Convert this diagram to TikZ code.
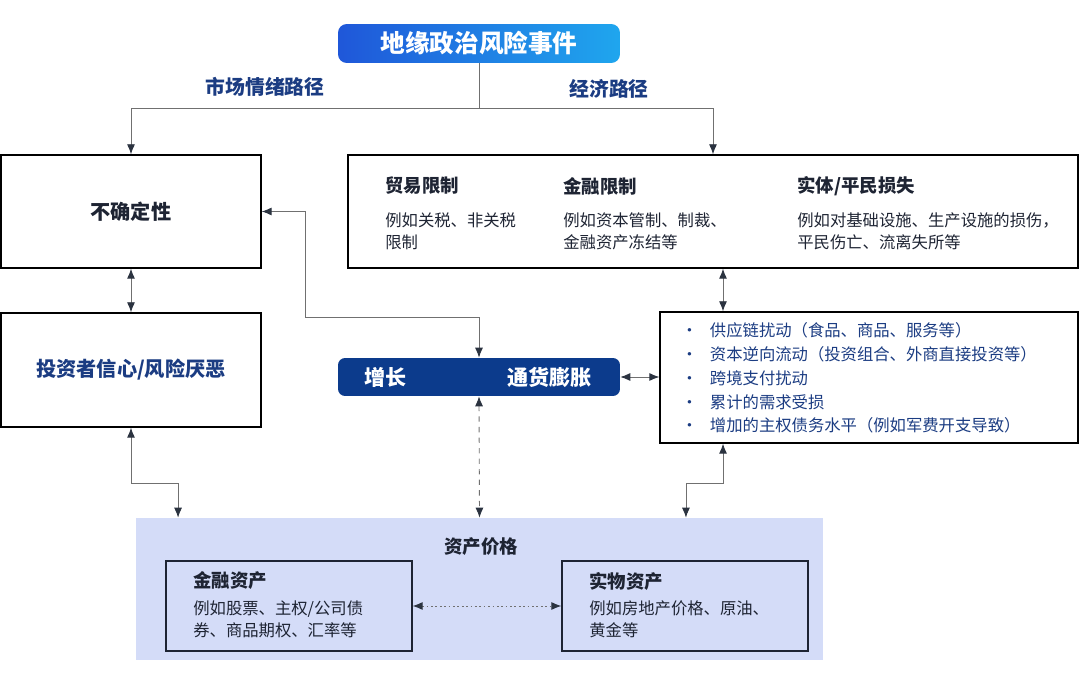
\documentclass[tikz,border=0pt]{standalone}
\usepackage{fontspec}
\setmainfont{Noto Sans CJK SC}
\usepackage{tikz}
\usetikzlibrary{arrows.meta}

\definecolor{navy}{HTML}{0C3B8C}
\definecolor{inkblue}{HTML}{1B3C82}
\definecolor{inkdark}{HTML}{1E2433}
\definecolor{linegray}{HTML}{707070}
\definecolor{tipgray}{HTML}{2B3340}
\definecolor{assetbg}{HTML}{D4DCF8}
\definecolor{gradleft}{HTML}{1F57D9}
\definecolor{gradright}{HTML}{1FA6EE}

\tikzset{
  box/.style={draw=black, line width=0.8pt, inner sep=0pt},
  headtxt/.style={font=\fontsize{10.5pt}{12pt}\selectfont\bfseries, text=inkdark, anchor=west, inner sep=0pt},
  bodytxt/.style={font=\fontsize{9.3pt}{12.5pt}\selectfont, text=inkdark, anchor=north west, align=left, inner sep=0pt},
  link/.style={draw=linegray, line width=0.5pt, >={Latex[length=2mm,width=1.6mm,color=tipgray]}},
}

\begin{document}
\begin{tikzpicture}[x=0.02cm,y=-0.02cm]
  \useasboundingbox (0,0) rectangle (1080,682);

    % Evento
  \node[rounded corners=5pt, left color=gradleft, right color=gradright, minimum width=5.64cm, minimum height=0.78cm,
        text=white, font=\fontsize{14pt}{16pt}\selectfont\bfseries] (event) at (479,43.5) {地缘政治风险事件};
  \node[font=\fontsize{11.3pt}{13pt}\selectfont\bfseries, text=inkblue] (mktlbl) at (265,87) {市场情绪路径};
  \node[font=\fontsize{11.3pt}{13pt}\selectfont\bfseries, text=inkblue] (ecolbl) at (609,89) {经济路径};

    % Caminho de mercado
  \node[box, minimum width=5.2cm, minimum height=2.26cm, text=inkdark,
        font=\fontsize{11.5pt}{13pt}\selectfont\bfseries] (unc) at (131,211.5) {不确定性};
  \node[box, minimum width=5.2cm, minimum height=2.28cm, text=inkblue,
        font=\fontsize{11.5pt}{13pt}\selectfont\bfseries] (conf) at (131,370) {投资者信心/风险厌恶};

    % Caminho econômico
  \node[box, minimum width=14.6cm, minimum height=2.26cm] (econ) at (713,211.5) {};
  \node[headtxt] (trade) at (385,186) {贸易限制};
  \node[headtxt] (fin) at (563,186) {金融限制};
  \node[headtxt] (phys) at (797,186) {实体/平民损失};
  \node[bodytxt] (tradetxt) at (385,212) {例如关税、非关税\\限制};
  \node[bodytxt] (fintxt) at (563,212) {例如资本管制、制裁、\\金融资产冻结等};
  \node[bodytxt] (phystxt) at (797,212) {例如对基础设施、生产设施的损伤，\\平民伤亡、流离失所等};

  \node[rounded corners=4pt, fill=navy, minimum width=5.64cm, minimum height=0.76cm] (growth) at (479,377) {};
  \node[text=white, font=\fontsize{12pt}{14pt}\selectfont\bfseries, anchor=west, inner sep=0pt] (grow) at (364,377) {增长};
  \node[text=white, font=\fontsize{12pt}{14pt}\selectfont\bfseries, anchor=west, inner sep=0pt] (infl) at (507,377) {通货膨胀};

  \node[box, minimum width=8.36cm, minimum height=2.62cm] (list) at (869,377.5) {};
  \node[bodytxt, text=inkblue, anchor=west, font=\fontsize{9.3pt}{13.6pt}\selectfont] (listtxt) at (681,378)
    {•\hspace{7pt}供应链扰动（食品、商品、服务等）\\
     •\hspace{7pt}资本逆向流动（投资组合、外商直接投资等）\\
     •\hspace{7pt}跨境支付扰动\\
     •\hspace{7pt}累计的需求受损\\
     •\hspace{7pt}增加的主权债务水平（例如军费开支导致）};

    % Preços de ativos
  \node[fill=assetbg, minimum width=13.74cm, minimum height=2.84cm] (asset) at (479.5,589) {};
  \node[font=\fontsize{10.5pt}{12pt}\selectfont\bfseries, text=inkdark] (assetlbl) at (481,547) {资产价格};
  \node[box, draw=inkdark, fill=assetbg, minimum width=4.92cm, minimum height=1.8cm] (finbox) at (289,606) {};
  \node[box, draw=inkdark, fill=assetbg, minimum width=4.92cm, minimum height=1.8cm] (realbox) at (685,606) {};
  \node[headtxt] (finhd) at (193,581) {金融资产};
  \node[bodytxt] (finbody) at (193,600) {例如股票、主权/公司债\\券、商品期权、汇率等};
  \node[headtxt] (realhd) at (589,581) {实物资产};
  \node[bodytxt] (realbody) at (589,600) {例如房地产价格、原油、\\黄金等};

    % Ligações
  \coordinate (split) at (479,108);
  \draw[link] (event.south) -- (split);
  \draw[link,->] (split) -| (unc.north);
  \draw[link,->] (split) -| (econ.north);
  \draw[link,<->] (unc.south) -- (conf.north);
  \draw[link,<->] (unc.east) -- ++(44,0) -- ++(0,105.5) -| (growth.north);
  \draw[link,<->] (growth.east) -- (list.west |- growth.east);
  \draw[link,<->] ([xshift=0.2cm]econ.south) -- ([xshift=0.2cm]econ.south |- list.north);
  \draw[link,<->] ([xshift=-2.92cm]list.south) -- ++(0,40) -| ([xshift=4.13cm]asset.north);
  \draw[link,<->] (conf.south) -- ++(0,56) -| ([xshift=-6.03cm]asset.north);
  \draw[link,<->,dashed] (growth.south) -- (asset.north);
  \draw[link,<->,dash pattern=on 1pt off 1.5pt] (finbox.east) -- (realbox.west);
\end{tikzpicture}
\end{document}
